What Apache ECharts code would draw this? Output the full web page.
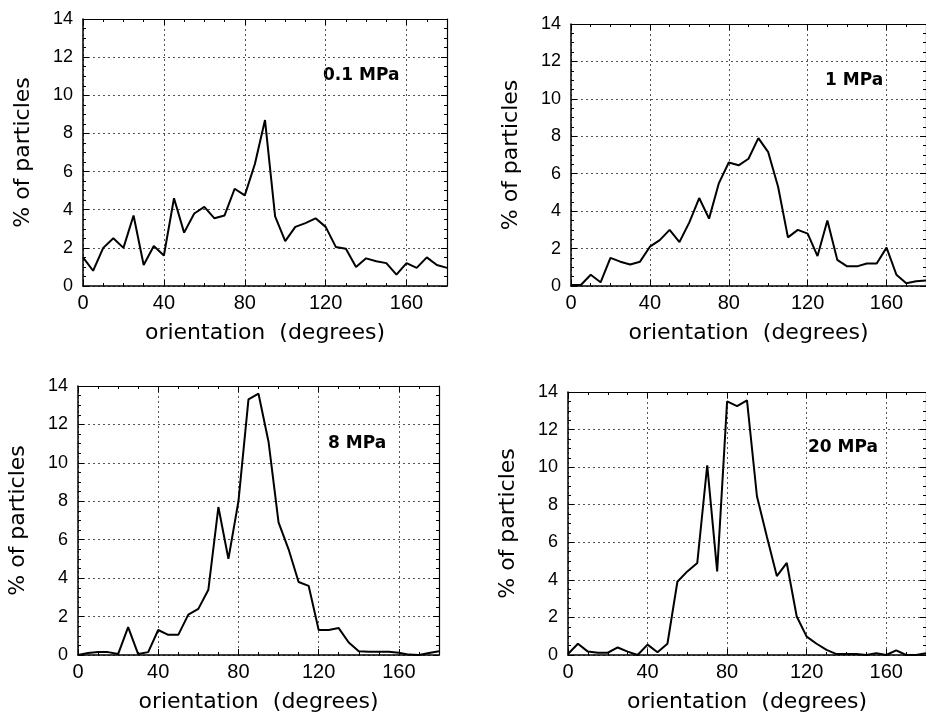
<!DOCTYPE html>
<html><head><meta charset="utf-8">
<script src="https://cdn.jsdelivr.net/npm/echarts@6/dist/echarts.min.js"></script>
<style>html,body{margin:0;padding:0;background:#fff}#c{width:926px;height:715px}</style>
</head><body><div id="c"></div>
<script>
// orientation (degrees)
const angles = [0,5,10,15,20,25,30,35,40,45,50,55,60,65,70,75,80,85,90,95,100,105,110,115,120,125,130,135,140,145,150,155,160,165,170,175,180];
// % of particles at each pressure
const pct01MPa = [1.5,0.8,2.0,2.5,2.0,3.7,1.1,2.1,1.6,4.6,2.8,3.8,4.15,3.55,3.7,5.1,4.75,6.4,8.7,3.65,2.35,3.1,3.3,3.55,3.1,2.05,1.95,1.0,1.45,1.3,1.2,0.6,1.2,0.95,1.5,1.1,0.95];
const pct1MPa = [0.05,0.05,0.6,0.2,1.5,1.3,1.15,1.3,2.1,2.45,3.0,2.35,3.4,4.7,3.6,5.5,6.6,6.45,6.8,7.9,7.15,5.3,2.6,3.0,2.8,1.6,3.5,1.4,1.05,1.05,1.2,1.2,2.05,0.6,0.15,0.25,0.3];
const pct8MPa = [0.0,0.1,0.15,0.15,0.05,1.45,0.05,0.15,1.3,1.05,1.05,2.1,2.4,3.4,7.7,5.0,8.0,13.3,13.6,11.1,6.9,5.5,3.8,3.6,1.3,1.3,1.4,0.65,0.2,0.17,0.17,0.17,0.12,0.02,0.0,0.1,0.2];
const pct20MPa = [0.05,0.6,0.18,0.12,0.12,0.4,0.18,0.0,0.55,0.15,0.6,3.9,4.45,4.9,10.1,4.45,13.5,13.25,13.55,8.45,6.3,4.2,4.9,2.05,0.98,0.6,0.27,0.05,0.05,0.05,0.0,0.1,0.0,0.25,0.0,0.0,0.1];
const panelLabels = ['0.1 MPa','1 MPa','8 MPa','20 MPa'];
const xName = 'orientation  (degrees)';
const yName = '% of particles';

const seriesValues = [pct01MPa, pct1MPa, pct8MPa, pct20MPa];
const grids = [
  {left:83, top:19, width:364, height:267},
  {left:571, top:24, width:363, height:262},
  {left:78, top:386, width:361, height:269},
  {left:568, top:392, width:363, height:263}
];
const labelPos = [[323,67],[825,72],[328,435],[808,439]];

const xAxes = [], yAxes = [], series = [], graphics = [];
const tickCol = '#000';
grids.forEach((g, i) => {
  xAxes.push({
    gridIndex:i, type:'value', min:0, max:180, interval:40, position:'bottom',
    axisLine:{show:true, onZero:false, lineStyle:{color:'#000', width:1.5}},
    axisTick:{show:true, inside:true, length:6, lineStyle:{color:tickCol}},
    minorTick:{show:true, splitNumber:4, length:3, lineStyle:{color:tickCol}},
    axisLabel:{showMaxLabel:false, color:'#000', fontSize:20, fontFamily:'Liberation Sans', margin:7},
    splitLine:{show:true, lineStyle:{color:'#555', type:[2,3], width:1}},
    name:xName, nameLocation:'middle', nameGap:36,
    nameTextStyle:{fontSize:22, fontFamily:'DejaVu Sans', color:'#000'}
  });
  xAxes.push({
    gridIndex:i, type:'value', min:0, max:180, interval:40, position:'top',
    axisLine:{show:true, onZero:false, lineStyle:{color:'#000', width:1.2}},
    axisTick:{show:true, inside:true, length:6, lineStyle:{color:tickCol}},
    minorTick:{show:true, splitNumber:4, length:3, lineStyle:{color:tickCol}},
    axisLabel:{show:false}, splitLine:{show:false}
  });
  yAxes.push({
    gridIndex:i, type:'value', min:0, max:14, interval:2, position:'left',
    axisLine:{show:true, onZero:false, lineStyle:{color:'#000', width:1.5}},
    axisTick:{show:true, inside:true, length:6, lineStyle:{color:tickCol}},
    minorTick:{show:true, splitNumber:4, length:3, lineStyle:{color:tickCol}},
    axisLabel:{color:'#000', fontSize:18, fontFamily:'Liberation Sans', margin:10},
    splitLine:{show:true, lineStyle:{color:'#555', type:[2,3], width:1}},
    name:yName, nameLocation:'middle', nameGap:49,
    nameTextStyle:{fontSize:22, fontFamily:'DejaVu Sans', color:'#000'}
  });
  yAxes.push({
    gridIndex:i, type:'value', min:0, max:14, interval:2, position:'right',
    axisLine:{show:true, onZero:false, lineStyle:{color:'#000', width:1.2}},
    axisTick:{show:true, inside:true, length:6, lineStyle:{color:tickCol}},
    minorTick:{show:true, splitNumber:4, length:3, lineStyle:{color:tickCol}},
    axisLabel:{show:false}, splitLine:{show:false}
  });
  series.push({
    type:'line', xAxisIndex:2*i, yAxisIndex:2*i,
    data: angles.map((a, j) => [a, seriesValues[i][j]]),
    showSymbol:false, symbol:'none', lineStyle:{color:'#000', width:2}, itemStyle:{color:'#000'},
    animation:false
  });
  graphics.push({
    type:'text', left:labelPos[i][0], top:labelPos[i][1],
    style:{text:panelLabels[i], font:'bold 17px "DejaVu Sans"', fill:'#000'}
  });
});

const chart = echarts.init(document.getElementById('c'), null, {renderer:'canvas'});
chart.setOption({
  backgroundColor:'#fff',
  animation:false,
  grid: grids.map(g => Object.assign({containLabel:false}, g)),
  xAxis: xAxes,
  yAxis: yAxes,
  series: series,
  graphic: graphics
});
</script>
</body></html>
